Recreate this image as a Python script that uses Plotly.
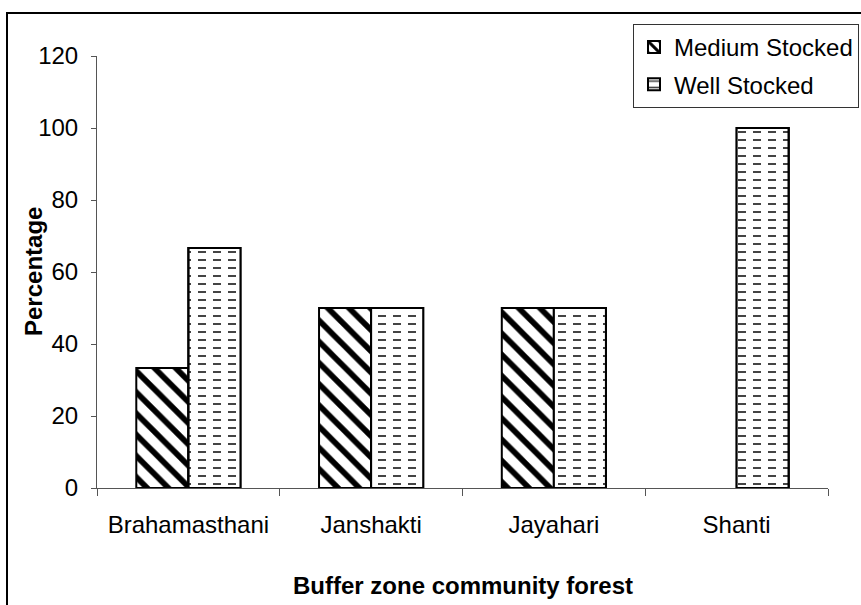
import plotly.graph_objects as go

# Share of plots by stocking class in each buffer zone community forest
forests = ["Brahamasthani", "Janshakti", "Jayahari", "Shanti"]
medium_stocked = [33.33, 50, 50, 0]
well_stocked = [66.67, 50, 50, 100]

y_ticks = [0, 20, 40, 60, 80, 100, 120]

FONT = "Arial, Liberation Sans, sans-serif"
BAR_W = 0.285

# pixel geometry of the page: paper runs from x=97 to the right edge
W, H = 861, 605
L, T, B = 97, 56, 117
PLOT_RIGHT = 828
PAPER_W = W - L
PLOT_H = H - T - B


def px_x(x):
    return (x - L) / PAPER_W


def px_y(y):
    return (H - B - y) / PLOT_H


def outline_widths(values, w=2):
    # no outline for empty bars, so nothing is drawn along the axis
    return [w if v else 0 for v in values]


fig = go.Figure()

# Medium stocked: wide downward diagonal hatch
fig.add_trace(go.Bar(
    x=forests, y=medium_stocked, name="Medium Stocked", legendgroup="medium",
    width=BAR_W, offset=-BAR_W,
    marker=dict(
        color="white",
        line=dict(color="black", width=outline_widths(medium_stocked)),
        pattern=dict(shape="\\", fgcolor="black", bgcolor="white",
                     size=15, solidity=0.38, fillmode="replace"),
    ),
))

# Well stocked: horizontal lines, broken into dashes by a white vertical overlay
fig.add_trace(go.Bar(
    x=forests, y=well_stocked, name="Well Stocked", legendgroup="well",
    width=BAR_W, offset=0,
    marker=dict(
        color="white",
        line=dict(color="black", width=outline_widths(well_stocked)),
        pattern=dict(shape="-", fgcolor="#444444", bgcolor="white",
                     size=8, solidity=0.25, fillmode="replace"),
    ),
))
fig.add_trace(go.Bar(
    x=forests, y=well_stocked, name="Well Stocked", legendgroup="well",
    width=BAR_W, offset=0, showlegend=False, hoverinfo="skip",
    marker=dict(
        color="rgba(0,0,0,0)",
        line=dict(color="black", width=outline_widths(well_stocked)),
        pattern=dict(shape="|", fgcolor="white", bgcolor="rgba(0,0,0,0)",
                     size=15, solidity=0.47, fillmode="replace"),
    ),
))

fig.update_layout(
    width=W, height=H,
    margin=dict(l=L, r=0, t=T, b=B, autoexpand=False),
    paper_bgcolor="white", plot_bgcolor="white",
    barmode="overlay",
    font=dict(family=FONT, size=24, color="black"),
    showlegend=True,
    legend=dict(
        x=px_x(633), y=px_y(24), xanchor="left", yanchor="top",
        bordercolor="#333", borderwidth=1, bgcolor="white",
        font=dict(family=FONT, size=24, color="black"),
        traceorder="grouped", tracegroupgap=3, itemwidth=30,
    ),
    xaxis=dict(
        domain=[0, px_x(PLOT_RIGHT)],
        type="category", showline=True, linecolor="#555", linewidth=1,
        ticks="outside", tickson="boundaries", ticklen=7, tickcolor="#555",
        showgrid=False, zeroline=False, ticklabelstandoff=15, tickangle=0,
        tickfont=dict(family=FONT, size=24, color="black"),
        range=[-0.5, 3.5],
    ),
    yaxis=dict(
        range=[0, 120], tickvals=y_ticks, showline=True, linecolor="#555",
        linewidth=1, ticks="outside", ticklen=5, tickcolor="#555",
        showgrid=False, zeroline=False, ticklabelstandoff=8,
        tickfont=dict(family=FONT, size=24, color="black"),
    ),
    annotations=[
        dict(text="<b>Buffer zone community forest</b>", xref="paper", yref="paper",
             x=px_x((L + PLOT_RIGHT) / 2), y=px_y(585), xanchor="center",
             yanchor="middle", showarrow=False,
             font=dict(family=FONT, size=24, color="black")),
        dict(text="<b>Percentage</b>", xref="paper", yref="paper",
             x=px_x(33), y=0.5, xanchor="center", yanchor="middle", showarrow=False,
             textangle=-90, font=dict(family=FONT, size=24, color="black")),
    ],
    shapes=[
        # chart area frame
        dict(type="rect", xref="paper", yref="paper",
             x0=px_x(7), y0=px_y(640), x1=px_x(900), y1=px_y(13),
             line=dict(color="black", width=2), fillcolor="rgba(0,0,0,0)",
             layer="below"),
    ],
)

fig.write_html("out.html")
